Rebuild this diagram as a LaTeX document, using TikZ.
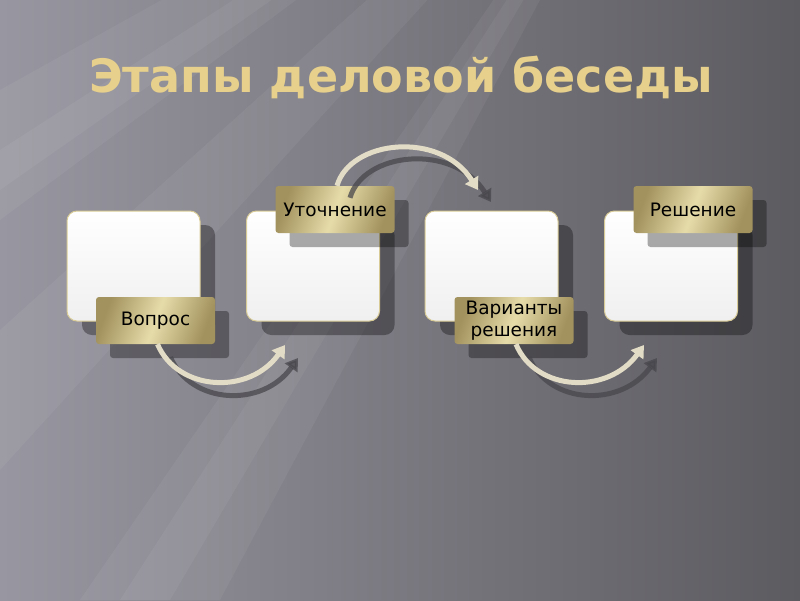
\documentclass[tikz,border=0pt]{standalone}
\usepackage{fontspec}
\setmainfont{DejaVu Sans}
\usetikzlibrary{shadows,arrows.meta,calc}
\definecolor{bgL}{HTML}{9896A0}
\definecolor{bgR}{HTML}{5C5B60}
\definecolor{titlegold}{HTML}{E6D08C}
\definecolor{goldD}{HTML}{A2925D}
\definecolor{goldL}{HTML}{E6DCAA}
\definecolor{boxline}{HTML}{D8CB96}
\definecolor{arrL}{HTML}{E2DCC6}
\definecolor{arrS}{HTML}{48474C}
\tikzset{
  stagebox/.style={rounded corners=10pt, draw=boxline, line width=1pt,
    top color=white, bottom color=black!6,
    minimum width=133pt, minimum height=110pt, inner sep=0pt,
    drop shadow={shadow xshift=15pt, shadow yshift=-14pt, fill=black, opacity=0.33}},
  stagelabel/.style={rounded corners=3pt, draw=none,
    left color=goldD, right color=goldD, middle color=goldL, shading angle=70,
    minimum width=119pt, minimum height=47pt, inner sep=0pt, align=center,
    font=\fontsize{18.5}{22}\selectfont, text=black,
    drop shadow={shadow xshift=14pt, shadow yshift=-14pt, fill=black, opacity=0.33}},
  arrowlight/.style={line width=5pt, draw=arrL, -{Triangle[length=12pt,width=15pt]}},
  arrowshade/.style={line width=5pt, draw=arrS, opacity=0.75, -{Triangle[length=12pt,width=15pt]}},
  ray/.style={fill=white, opacity=0.05}
}
\begin{document}
\begin{tikzpicture}[x=1pt,y=-1pt]
\useasboundingbox (0,0) rectangle (800,600);
% background
\fill[left color=bgL, right color=bgR] (0,0) rectangle (800,600);
\begin{scope}
\clip (0,0) rectangle (800,600);
\fill[ray] (700,-300) -- (0,90) -- (0,220) -- cycle;
\fill[ray] (700,-300) -- (0,150) -- (0,190) -- cycle;
\fill[ray] (700,-300) -- (0,330) -- (0,470) -- cycle;
\fill[ray] (700,-300) -- (80,600) -- (220,600) -- cycle;
\fill[ray] (700,-300) -- (120,600) -- (170,600) -- cycle;
\end{scope}
% title
\node (title) at (401,77) {\fontsize{46}{50}\selectfont\bfseries\color{titlegold}Этапы деловой беседы};
% boxes
\node[stagebox] (b1) at (133.5,266) {};
\node[stagebox] (b2) at (313,266) {};
\node[stagebox] (b3) at (491.5,266) {};
\node[stagebox] (b4) at (671,266) {};
% labels
\node[stagelabel] (l1) at (155.5,320.5) {Вопрос};
\node[stagelabel] (l2) at (335,209.5) {Уточнение};
\node[stagelabel] (l3) at (514,320.5) {Варианты\\решения};
\node[stagelabel] (l4) at (693,209.5) {Решение};
% arrow end points
\coordinate (s1) at ($(l1.south)+(2,0)$);
\coordinate (e1) at (285,345);
\coordinate (s2) at ($(l2.north)+(2,0)$);
\coordinate (e2) at (478,190);
\coordinate (s3) at ($(l3.south)+(2,0)$);
\coordinate (e3) at (644,345);
% arrow shadows
\draw[arrowshade] ($(s1)+(13,13)$) .. controls (191,405) and (263,408) .. ($(e1)+(13,13)$);
\draw[arrowshade] ($(s2)+(13,12)$) .. controls (363,152) and (453,142) .. ($(e2)+(13,12)$);
\draw[arrowshade] ($(s3)+(13,13)$) .. controls (549,405) and (621,408) .. ($(e3)+(13,13)$);
% arrows
\draw[arrowlight] (s1) .. controls (178,392) and (250,395) .. (e1);
\draw[arrowlight] (s2) .. controls (350,140) and (440,130) .. (e2);
\draw[arrowlight] (s3) .. controls (536,392) and (608,395) .. (e3);
\end{tikzpicture}
\end{document}
